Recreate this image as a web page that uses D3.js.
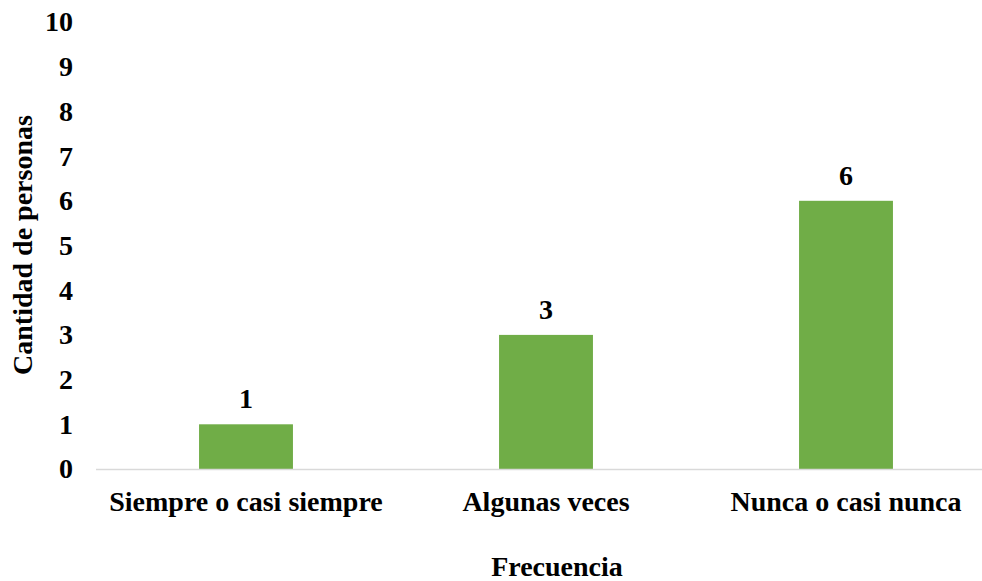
<!DOCTYPE html>
<html>
<head>
<meta charset="utf-8">
<script src="https://cdn.jsdelivr.net/npm/d3@7/dist/d3.min.js"></script>
<style>
  html, body { margin: 0; padding: 0; background: #fff; }
  svg { display: block; }
  text { font-family: "Liberation Serif", "Times New Roman", serif; font-weight: bold; fill: #000; }
</style>
</head>
<body>
<svg id="chart" width="982" height="581"></svg>
<script>
// Survey answers: how often, and how many people
const categories = ["Siempre o casi siempre", "Algunas veces", "Nunca o casi nunca"];
const counts = [1, 3, 6];
const yTicks = [0, 1, 2, 3, 4, 5, 6, 7, 8, 9, 10];
const xTitle = "Frecuencia";
const yTitle = "Cantidad de personas";

const svg = d3.select("#chart");
const W = 982, H = 581;
const plotLeft = 96, plotRight = 996, plotTop = 22, plotBottom = 469;
const fontSize = "28px";

const x = d3.scaleBand()
  .domain(categories)
  .range([plotLeft, plotRight])
  .paddingInner(0.687)
  .paddingOuter(0.687 / 2);

const y = d3.scaleLinear().domain([0, 10]).range([plotBottom, plotTop]);

// Bars
svg.append("g").selectAll("rect")
  .data(counts)
  .join("rect")
  .attr("x", (d, i) => x(categories[i]))
  .attr("y", d => y(d))
  .attr("width", x.bandwidth())
  .attr("height", d => y(0) - y(d))
  .attr("fill", "#70ad47");

// Baseline
svg.append("line")
  .attr("x1", plotLeft).attr("x2", W)
  .attr("y1", y(0) + 0.5).attr("y2", y(0) + 0.5)
  .attr("stroke", "#d9d9d9").attr("stroke-width", 1.5);

// Y axis labels (no axis line)
const yAxis = d3.axisLeft(y).tickValues(yTicks).tickSize(0).tickPadding(0).tickFormat(d3.format("d"));
const gy = svg.append("g").attr("transform", "translate(73,0)").call(yAxis);
gy.select(".domain").remove();
gy.selectAll("text")
  .style("font-family", '"Liberation Serif", "Times New Roman", serif')
  .style("font-weight", "bold")
  .style("font-size", fontSize)
  .attr("fill", "#000");

// X axis category labels
const xAxis = d3.axisBottom(x).tickSize(0).tickPadding(0);
const gx = svg.append("g").attr("transform", `translate(0,${y(0)})`).call(xAxis);
gx.select(".domain").remove();
gx.selectAll("text")
  .attr("dy", null)
  .attr("y", 42)
  .style("font-family", '"Liberation Serif", "Times New Roman", serif')
  .style("font-weight", "bold")
  .style("font-size", fontSize)
  .attr("fill", "#000");

// Value labels above bars
svg.append("g").selectAll("text")
  .data(counts)
  .join("text")
  .attr("x", (d, i) => x(categories[i]) + x.bandwidth() / 2)
  .attr("y", d => y(d) - 16)
  .attr("text-anchor", "middle")
  .style("font-size", fontSize)
  .text(d => d);

// Axis titles
svg.append("text")
  .attr("x", 557)
  .attr("y", 576)
  .attr("text-anchor", "middle")
  .style("font-size", fontSize)
  .text(xTitle);

svg.append("text")
  .attr("transform", `translate(32,245) rotate(-90)`)
  .attr("text-anchor", "middle")
  .style("font-size", fontSize)
  .text(yTitle);
</script>
</body>
</html>
